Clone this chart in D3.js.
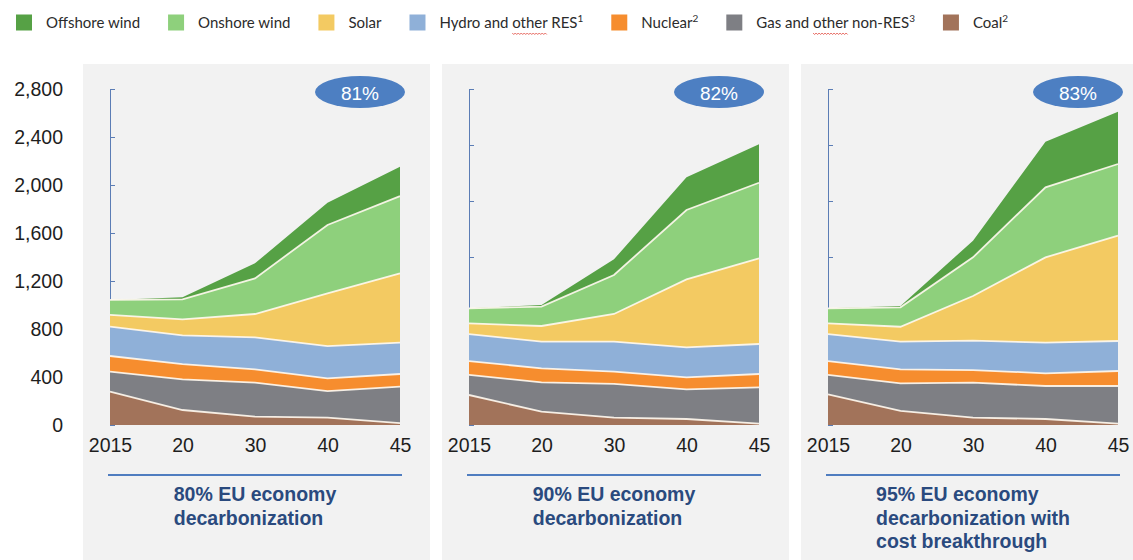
<!DOCTYPE html>
<html>
<head>
<meta charset="utf-8">
<script src="https://cdn.jsdelivr.net/npm/d3@7"></script>
<style>
  html, body { margin: 0; padding: 0; background: #ffffff; }
  svg { display: block; }
</style>
</head>
<body>
<svg id="chart" width="1133" height="560"></svg>
<script>
// ---- Data -------------------------------------------------------------
const years = ["2015", "20", "30", "40", "45"];
const scenarioTitles = [
  ["80% EU economy", "decarbonization"],
  ["90% EU economy", "decarbonization"],
  ["95% EU economy", "decarbonization with", "cost breakthrough"]
];
const resShares = ["81%", "82%", "83%"];
const yTicks = [0, 400, 800, 1200, 1600, 2000, 2400, 2800];

// Power generation by source (TWh); one row per scenario, one value per year
const coal     = [[278, 125, 70, 61, 15], [250, 111, 61, 50, 12], [256, 117, 61, 50, 12]];
const gas      = [[166, 256, 283, 222, 304], [167, 245, 281, 247, 302], [161, 230, 292, 275, 313]];
const nuclear  = [[131, 127, 111, 106, 106], [116, 116, 102, 100, 111], [116, 117, 105, 106, 125]];
const hydro    = [[244, 239, 267, 269, 261], [225, 222, 250, 250, 250], [225, 230, 245, 255, 250]];
const solar    = [[98, 134, 194, 439, 578], [89, 131, 231, 567, 714], [89, 125, 372, 711, 878]];
const onshore  = [[125, 166, 297, 570, 644], [125, 161, 325, 578, 630], [125, 162, 322, 584, 597]];
const offshore = [[0, 17, 125, 186, 245], [0, 14, 131, 272, 320], [0, 11, 139, 380, 436]];

// Stack order, bottom to top
const seriesKeys = ["coal", "gas", "nuclear", "hydro", "solar", "onshore", "offshore"];
const seriesValues = { coal, gas, nuclear, hydro, solar, onshore, offshore };

// Legend, left to right
const legendKeys = ["offshore", "onshore", "solar", "hydro", "nuclear", "gas", "coal"];
const legendNames = ["Offshore wind", "Onshore wind", "Solar", "Hydro and other RES", "Nuclear", "Gas and other non-RES", "Coal"];
const legendNotes = ["", "", "", "1", "2", "3", "2"];

// ---- Styles -----------------------------------------------------------
const colors = {
  offshore: "#56a145",
  onshore: "#8ed07c",
  solar: "#f3ca62",
  hydro: "#8fb0d8",
  nuclear: "#f68d2e",
  gas: "#7e7f84",
  coal: "#a2735a"
};
const panelBg = "#f2f2f2";
const axisBlue = "#5b7db5";
const titleBlue = "#2a4a7e";
const bubbleBlue = "#4d7fc2";
const textDark = "#1e1e1e";

const svg = d3.select("#chart");

// ---- Scales -----------------------------------------------------------
const panelX = d3.scaleBand()
  .domain(d3.range(scenarioTitles.length))
  .range([83, 1148])
  .paddingInner(12 / 359)
  .paddingOuter(0);

const x = d3.scalePoint().domain(years).range([27, 317]);
const y = d3.scaleLinear().domain([0, 2800]).range([425, 89]);

const stack = d3.stack().keys(seriesKeys);

const area = d3.area()
  .x(d => x(d.data.year))
  .y0(d => y(d[0]))
  .y1(d => y(d[1]));

const topLine = d3.line()
  .x(d => x(d.data.year))
  .y(d => y(d[1]));

// ---- Panels -----------------------------------------------------------
scenarioTitles.forEach((title, i) => {
  const g = svg.append("g").attr("transform", `translate(${panelX(i)},0)`);

  g.append("rect")
    .attr("x", 0).attr("y", 64)
    .attr("width", panelX.bandwidth())
    .attr("height", 560 - 64)
    .attr("fill", panelBg);

  // value axis (unlabelled inside the panel)
  const tickVals = i === 0 ? yTicks : d3.range(7).map(k => 2800 * k / 6);
  const ax = g.append("g")
    .attr("transform", `translate(${x(years[0])},0)`)
    .call(d3.axisRight(y).tickValues(tickVals).tickSize(5).tickSizeOuter(0).tickFormat(""));
  ax.selectAll("path, line").attr("stroke", axisBlue).attr("stroke-width", 1);

  // stacked areas
  const rows = years.map((yr, j) => {
    const r = { year: yr };
    seriesKeys.forEach(k => { r[k] = seriesValues[k][i][j]; });
    return r;
  });
  const layers = stack(rows);

  g.selectAll("path.layer")
    .data(layers)
    .join("path")
    .attr("class", "layer")
    .attr("d", area)
    .attr("fill", d => colors[d.key]);

  g.selectAll("path.sep")
    .data(layers.slice(0, -1))
    .join("path")
    .attr("class", "sep")
    .attr("d", topLine)
    .attr("fill", "none")
    .attr("stroke", "#fff8ee")
    .attr("stroke-opacity", 0.9)
    .attr("stroke-width", 1.8);

  // year labels
  const xa = g.append("g")
    .attr("transform", "translate(0,428)")
    .call(d3.axisBottom(x).tickSize(0).tickPadding(10));
  xa.select(".domain").remove();
  xa.selectAll("text")
    .attr("font-family", "'Liberation Sans', Arial, sans-serif")
    .attr("font-size", 19.5)
    .attr("fill", textDark);

  // RES share bubble
  const bx = x(years[years.length - 1]) - 40;
  g.append("ellipse")
    .attr("cx", bx).attr("cy", 92)
    .attr("rx", 45).attr("ry", 16)
    .attr("fill", bubbleBlue);
  g.append("text")
    .attr("x", bx).attr("y", 93)
    .attr("dy", "0.36em")
    .attr("text-anchor", "middle")
    .attr("font-family", "'Liberation Sans', Arial, sans-serif")
    .attr("font-size", 19)
    .attr("fill", "#ffffff")
    .text(resShares[i]);

  // scenario caption
  const x0 = x(years[0]), x1 = x(years[years.length - 1]);
  g.append("line")
    .attr("x1", x0 - 2).attr("x2", x1 + 2)
    .attr("y1", 475).attr("y2", 475)
    .attr("stroke", "#4f7dc0")
    .attr("stroke-width", 2);

  const cap = g.append("text")
    .attr("font-family", "'Liberation Sans', Arial, sans-serif")
    .attr("font-weight", "bold")
    .attr("font-size", 19.5)
    .attr("fill", titleBlue);
  const spans = cap.selectAll("tspan")
    .data(title)
    .join("tspan")
    .attr("y", (d, k) => 501 + k * 23.5)
    .text(d => d);
  const widest = d3.max(spans.nodes(), n => n.getComputedTextLength());
  spans.attr("x", (x0 + x1) / 2 - widest / 2);
});

// ---- Shared value labels (left of first panel) -----------------------
const yl = svg.append("g")
  .attr("transform", "translate(66,0)")
  .call(d3.axisLeft(y).tickValues(yTicks).tickSize(0).tickPadding(3).tickFormat(d3.format(",")));
yl.select(".domain").remove();
yl.selectAll("text")
  .attr("font-family", "'Liberation Sans', Arial, sans-serif")
  .attr("font-size", 19.5)
  .attr("fill", textDark);

// ---- Legend -----------------------------------------------------------
const legend = svg.append("g").attr("class", "legend");
let lx = 16;
legendKeys.forEach((k, i) => {
  legend.append("rect")
    .attr("x", lx).attr("y", 14.5)
    .attr("width", 16).attr("height", 16)
    .attr("fill", colors[k]);
  const t = legend.append("text")
    .attr("x", lx + 30).attr("y", 28)
    .attr("font-family", "Lato, 'Open Sans', sans-serif")
    .attr("font-size", 15)
    .attr("fill", "#2b2b2b");
  t.append("tspan").text(legendNames[i]);
  if (legendNotes[i]) {
    t.append("tspan")
      .attr("font-size", 10)
      .attr("dy", -6)
      .text(legendNotes[i]);
  }
  // spell-check squiggle under "other"
  const word = "other";
  const at = legendNames[i].indexOf(word);
  if (at >= 0) {
    const node = t.node();
    const sx = lx + 30 + node.getSubStringLength(0, at);
    const w = node.getSubStringLength(at, word.length);
    const pts = d3.range(0, Math.floor(w / 1.5) + 1).map(s => [sx + s * 1.5, 33.5 + (s % 2 ? 1 : -0.5)]);
    legend.append("path")
      .attr("d", d3.line()(pts))
      .attr("fill", "none")
      .attr("stroke", "#e0493f")
      .attr("stroke-width", 0.8);
  }
  lx += 30 + t.node().getComputedTextLength() + 28;
});
</script>
</body>
</html>
